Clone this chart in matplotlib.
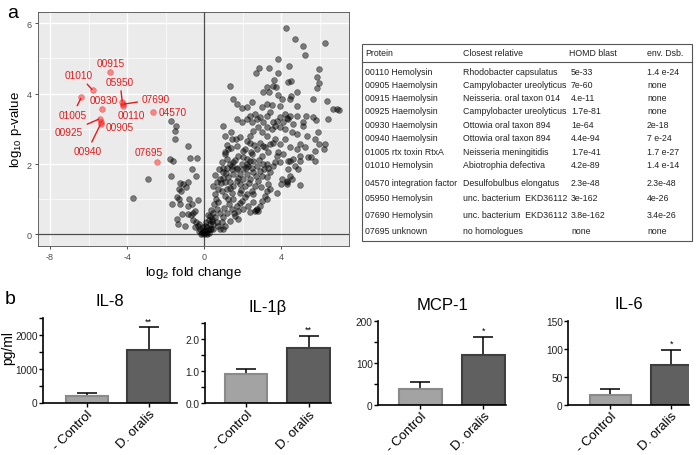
import matplotlib
matplotlib.use("Agg")
import matplotlib.pyplot as plt
import matplotlib.transforms as mtransforms
import numpy as np

plt.rcParams['font.family'] = ['Liberation Sans', 'DejaVu Sans']
plt.rcParams['mathtext.default'] = 'regular'
plt.rcParams['axes.unicode_minus'] = False

W, H = 696, 456

# ---- panel a: volcano data (log2 fold change, log10 p-value) ----
other_points = [
    # left side
    (-3.68, 1.04), (-2.93, 1.56), (-1.74, 3.22), (-1.47, 3.07), (-1.52, 2.93), (-1.52, 2.71),
    (-0.83, 2.50), (-1.78, 2.14), (-1.60, 2.09), (-0.74, 2.16), (-0.39, 2.18), (-0.65, 1.86),
    (-1.74, 1.65), (-0.43, 1.65), (-1.26, 1.46), (-1.33, 1.29), (-1.19, 1.24), (-0.95, 1.36),
    (-0.83, 1.48), (-1.09, 1.43), (-1.43, 1.05), (-1.30, 1.00), (-0.78, 1.00), (-0.31, 0.98),
    (-1.69, 0.86), (-1.26, 0.86), (-0.83, 0.81), (-0.65, 0.86), (-1.40, 0.45), (-1.38, 0.29),
    (-1.00, 0.23), (-0.83, 0.58), (-0.60, 0.61), (-0.48, 0.67), (-1.17, 0.58),
    # around the origin
    (-0.45, 0.35), (-0.35, 0.25), (-0.25, 0.30), (-0.20, 0.15), (-0.10, 0.05), (-0.05, 0.20),
    (0.00, 0.02), (0.05, 0.10), (0.10, 0.05), (0.15, 0.20), (0.20, 0.12), (0.25, 0.05),
    (-0.30, 0.10), (-0.15, 0.00), (0.30, 0.30), (0.35, 0.15), (-0.60, 0.40), (-0.70, 0.55),
    (0.40, 0.45), (0.10, 0.35), (0.22, 0.40), (-0.50, 0.20), (0.81, 0.15), (2.68, 0.70),
    # top right
    (4.22, 5.86), (4.72, 5.56), (5.13, 5.34), (6.24, 5.45), (5.22, 5.10), (3.82, 4.99),
    (4.41, 4.78), (2.85, 4.74), (3.37, 4.72), (2.68, 4.59), (3.82, 4.59), (5.96, 4.71),
    (5.86, 4.46), (5.95, 4.30), (5.82, 4.17), (3.60, 4.38), (3.55, 4.21), (3.72, 4.20),
    (4.36, 4.32), (4.51, 4.37), (3.23, 4.18), (3.03, 4.04), (3.37, 4.04), (1.33, 4.21),
    (4.82, 4.06), (3.83, 3.96), (4.48, 3.92),
    # middle right
    (0.99, 3.09), (1.37, 2.92), (1.51, 3.85), (1.71, 3.70), (1.94, 3.58), (2.20, 3.61),
    (2.49, 3.75), (2.98, 3.61), (3.23, 3.70), (3.49, 3.68), (3.93, 3.66), (4.01, 3.85),
    (4.44, 3.85), (4.79, 3.66), (5.65, 3.86), (6.34, 3.79), (6.69, 3.56), (7.00, 3.54),
    (6.86, 3.57), (1.68, 3.28), (1.94, 3.18), (2.20, 3.28), (2.37, 3.37), (2.46, 3.18),
    (2.63, 3.42), (2.72, 3.28), (2.89, 3.33), (3.06, 3.18), (3.23, 3.37), (3.41, 3.47),
    (3.58, 3.18), (3.75, 3.23), (3.93, 3.33), (4.18, 3.42), (4.30, 3.30), (4.44, 3.37),
    (4.62, 3.14), (4.82, 3.37), (5.13, 3.18), (5.27, 3.37), (5.62, 3.35), (5.79, 3.26),
    (1.08, 2.80), (1.42, 2.71), (1.68, 2.52), (1.25, 2.43), (1.08, 2.28), (1.16, 2.14),
    (1.51, 2.05), (1.77, 2.24), (2.03, 2.38), (2.20, 2.66), (2.37, 2.80), (2.54, 2.95),
    (2.80, 3.04), (2.98, 2.90), (3.23, 2.80), (3.49, 2.99), (3.67, 3.09), (3.93, 3.04),
    (4.10, 3.18), (4.36, 3.28), (4.53, 2.90), (4.79, 2.85), (5.13, 3.09), (5.31, 2.80),
    (5.74, 2.71), (5.96, 2.57), (6.20, 2.43), (5.91, 2.90), (5.22, 2.47), (4.96, 2.57),
    (4.79, 2.43), (4.44, 2.47), (4.18, 2.71), (3.93, 2.57), (3.67, 2.71), (3.41, 2.57),
    (3.15, 2.47), (2.89, 2.61), (2.72, 2.43), (2.46, 2.28), (2.20, 2.14), (1.94, 2.00),
    (1.68, 1.90), (1.42, 1.95), (0.99, 1.90), (2.54, 2.09), (2.98, 2.24), (3.32, 2.33),
    (3.75, 2.24), (4.10, 2.28), (4.36, 2.09), (4.62, 2.14), (4.96, 2.24), (5.39, 2.19),
    (5.74, 2.38), (5.74, 2.09), (3.23, 2.00), (3.58, 1.95), (3.93, 2.05), (2.28, 1.95),
    (2.11, 2.43), (2.37, 2.61), (1.85, 2.76), (3.23, 3.04), (4.18, 3.00), (6.41, 3.27),
    (6.25, 2.56), (5.55, 2.20),
    # lower band
    (0.13, 0.02), (0.30, 0.15), (0.47, 0.29), (0.56, 0.48), (0.47, 0.62), (0.64, 0.72),
    (0.73, 0.91), (0.56, 1.15), (0.47, 1.38), (0.64, 1.48), (0.82, 1.57), (0.99, 1.76),
    (1.16, 1.90), (1.33, 2.00), (0.90, 1.24), (1.08, 1.10), (1.25, 1.00), (1.42, 1.19),
    (1.51, 1.38), (1.68, 1.52), (1.85, 1.71), (2.03, 1.86), (2.20, 2.00), (2.37, 2.09),
    (2.72, 1.95), (2.89, 1.81), (2.98, 1.67), (2.80, 1.52), (2.63, 1.38), (2.46, 1.24),
    (2.20, 1.15), (1.94, 0.96), (1.68, 0.81), (1.42, 0.72), (1.16, 0.62), (0.99, 0.48),
    (0.90, 0.34), (0.73, 0.25), (1.08, 0.25), (1.33, 0.39), (1.59, 0.53), (1.77, 0.67),
    (2.03, 0.72), (2.28, 0.81), (2.54, 0.91), (2.72, 0.72), (2.63, 0.67), (2.80, 0.67),
    (2.98, 0.96), (3.15, 1.10), (3.23, 1.00), (3.23, 1.24), (3.32, 1.43), (3.23, 1.62),
    (3.41, 1.76), (3.67, 2.05), (3.75, 1.19), (4.01, 1.57), (4.27, 1.43), (4.27, 1.52),
    (4.53, 1.57), (4.44, 1.67), (4.96, 1.40), (4.36, 1.86), (4.70, 1.95), (4.87, 1.86),
    (4.96, 2.09), (4.44, 2.09), (1.77, 0.44), (0.99, 0.15), (-0.05, 0.10), (0.04, 0.25),
    (0.38, 0.39), (0.30, 0.53), (1.51, 1.00), (1.85, 1.19), (2.11, 1.38), (2.37, 1.57),
    (2.54, 1.76), (1.68, 1.86), (1.51, 1.71), (1.25, 1.62), (1.08, 1.48), (1.33, 1.33),
    (2.20, 1.71), (2.46, 1.90), (2.03, 1.57), (1.85, 1.43), (3.06, 2.00), (3.32, 1.90),
    (4.00, 1.43), (4.30, 1.49),
    (0.20, 0.55), (0.35, 0.70), (0.50, 0.85), (0.60, 1.00), (0.70, 1.30), (0.85, 1.45),
    (0.95, 1.60), (1.10, 1.75), (1.20, 1.30), (1.35, 1.50), (1.45, 1.85), (1.60, 2.10),
    (1.75, 1.60), (1.90, 1.25), (2.00, 2.20), (2.15, 1.90), (2.30, 1.45), (2.40, 2.35),
    (2.50, 1.15), (2.60, 2.55), (2.70, 1.65), (2.85, 2.10), (2.95, 1.35), (3.05, 2.50),
    (3.10, 1.85), (1.30, 0.85), (1.55, 0.60), (1.00, 0.75), (0.80, 0.60), (0.65, 0.35),
    (0.45, 0.15), (1.85, 0.90), (2.10, 1.05), (2.35, 0.65), (2.90, 0.80), (3.40, 1.30),
    (3.55, 2.60), (3.80, 2.35), (1.20, 2.55), (1.05, 2.35), (0.90, 2.05), (0.75, 1.85),
    (0.55, 1.70), (1.65, 2.70), (1.40, 2.45),
]
other_fc, other_logp = zip(*other_points)

hit_ids = ["00915", "01010", "01005", "00930", "05950", "07690", "00110",
           "04570", "00925", "00905", "00940", "07695"]
hit_fc = [-4.89, -5.77, -6.37, -5.28, -4.25, -4.20, -4.22, -2.67, -5.40, -5.37, -5.37, -2.47]
hit_logp = [4.62, 4.09, 3.90, 3.57, 3.75, 3.70, 3.64, 3.47, 3.29, 3.20, 3.14, 2.07]

# label placement (data coords) and whether a connector is drawn
label_pos = {
    "00915": (-4.85, 4.88, False), "01010": (-6.49, 4.52, True),
    "05950": (-4.37, 4.34, True), "00930": (-5.23, 3.81, False),
    "07690": (-2.52, 3.84, True), "01005": (-6.82, 3.40, True),
    "00110": (-3.77, 3.38, False), "04570": (-1.64, 3.48, False),
    "00925": (-7.01, 2.91, True), "00905": (-4.40, 3.05, False),
    "00940": (-6.06, 2.37, True), "07695": (-2.90, 2.33, False),
}

# ---- table ----
table_header = ["Protein", "Closest relative", "HOMD blast", "env. Dsb."]
table_protein = ["00110 Hemolysin", "00905 Haemolysin", "00915 Haemolysin", "00925 Haemolysin",
                 "00930 Haemolysin", "00940 Haemolysin", "01005 rtx toxin RtxA", "01010 Hemolysin",
                 "04570 integration factor", "05950 Hemolysin", "07690 Hemolysin", "07695 unknown"]
table_relative = ["Rhodobacter capsulatus", "Campylobacter ureolyticus", "Neisseria. oral taxon 014",
                  "Campylobacter ureolyticus", "Ottowia oral taxon 894", "Ottowia oral taxon 894",
                  "Neisseria meningitidis", "Abiotrophia defectiva", "Desulfobulbus elongatus",
                  "unc. bacterium  EKD36112", "unc. bacterium  EKD36112", "no homologues"]
table_homd = ["5e-33", "7e-60", "4.e-11", "1.7e-81", "1e-64", "4.4e-94", "1.7e-41",
              "4.2e-89", "2.3e-48", "3e-162", "3.8e-162", "none"]
table_env = ["1.4 e-24", "none", "none", "none", "2e-18", "7 e-24", "1.7 e-27",
             "1.4 e-14", "2.3e-48", "4e-26", "3.4e-26", "none"]

# ---- panel b: cytokines ----
cytokines = ["IL-8", "IL-1β", "MCP-1", "IL-6"]
groups = ["- Control", "D. oralis"]
control_mean = [180, 0.91, 37.6, 17.3]
control_err = [95, 0.15, 16, 10.2]
oralis_mean = [1556, 1.73, 120, 70.3]
oralis_err = [663, 0.38, 41.6, 27.9]
stars = ["**", "**", "*", "*"]
y_max = [2500, 2.5, 200, 150]
y_major = [[0, 1000, 2000], [0.0, 1.0, 2.0], [0, 100, 200], [0, 50, 100, 150]]
y_minor = [[500, 1500, 2500], [0.5, 1.5, 2.5], [50, 150], []]
y_fmt = ["{:.0f}", "{:.1f}", "{:.0f}", "{:.0f}"]


def px_axes(fig, left, right, bottom, top):
    return fig.add_axes([left / W, 1 - bottom / H, (right - left) / W, (bottom - top) / H])


fig = plt.figure(figsize=(W / 100, H / 100), dpi=100)

# ================= volcano =================
ax = px_axes(fig, 38, 349, 247, 13)
ax.set_facecolor("#EBEBEB")
ax.set_xlim(-8.62, 7.5)
ax.set_ylim(-0.33, 6.32)
ax.set_xticks([-8, -4, 0, 4])
ax.set_yticks([0, 2, 4, 6])
ax.set_xticks([-6, -2, 2, 6], minor=True)
ax.set_yticks([1, 3, 5], minor=True)
ax.grid(which="major", color="white", lw=1.0)
ax.grid(which="minor", color="white", lw=0.5)
ax.set_axisbelow(True)
ax.tick_params(which="minor", length=0)
ax.tick_params(which="major", length=2.5, width=0.6, color="#333333",
               labelsize=6.5, labelcolor="#4D4D4D", pad=2)
for s in ax.spines.values():
    s.set_color("#4D4D4D")
    s.set_linewidth(0.6)
ax.axvline(0, color="#4D4D4D", lw=0.9, zorder=1)
ax.axhline(0, color="#4D4D4D", lw=0.9, zorder=1)

ax.scatter(other_fc, other_logp, s=17, color="black", alpha=0.48, edgecolors="black",
           linewidths=0.5, zorder=2)
ax.scatter(hit_fc, hit_logp, s=17, color="#FF0000", alpha=0.42, edgecolors="#FF0000",
           linewidths=0.5, zorder=3)

for name, fx, py in zip(hit_ids, hit_fc, hit_logp):
    lx, ly, seg = label_pos[name]
    props = dict(arrowstyle="-", color="#E41A1C", lw=1.0, shrinkA=1, shrinkB=1) if seg else None
    ax.annotate(name, xy=(fx, py), xytext=(lx, ly), ha="center", va="center",
                fontsize=7.3, color="#E41A1C", arrowprops=props, zorder=4)

ax.set_xlabel(r"log$_2$ fold change", fontsize=9.5, labelpad=2)
ax.set_ylabel(r"log$_{10}$ p-value", fontsize=9.5, labelpad=2)

fig.text(7 / W, 1 - 14 / H, "a", fontsize=14, va="center", ha="left")
fig.text(5 / W, 1 - 300 / H, "b", fontsize=14, va="center", ha="left")

# ================= table =================
tx0, tx1, ty0, ty1 = 362, 692, 45, 242
fig.add_artist(plt.Rectangle((tx0 / W, 1 - ty1 / H), (tx1 - tx0) / W, (ty1 - ty0) / H,
                             transform=fig.transFigure, fill=False, ec="#555555", lw=0.8))
fig.add_artist(plt.Line2D([tx0 / W, tx1 / W], [1 - 63 / H, 1 - 63 / H],
                          transform=fig.transFigure, color="#555555", lw=0.8))
col_x = [365, 463, 571, 647]
for cx, txt in zip([365, 463, 569, 647], table_header):
    fig.text(cx / W, 1 - 53.5 / H, txt, fontsize=6.3, va="center", ha="left", color="#222222")
row_y = [72.7, 85, 98.3, 111.7, 125, 138.3, 152.7, 166, 183.3, 199, 215.3, 231.3]
for i, ry in enumerate(row_y):
    cols = [table_protein[i], table_relative[i], table_homd[i], table_env[i]]
    for cx, txt in zip(col_x, cols):
        fig.text(cx / W, 1 - ry / H, txt, fontsize=6.3, va="center", ha="left", color="#222222")

# ================= bar charts =================
bar_boxes = [(43.3, 177, 403.5, 319), (205, 331, 404.3, 324.3),
             (378.3, 506, 405.7, 322.3), (568.3, 689, 405.7, 321.7)]
bar_xlim = [(-0.70, 1.46), (-0.66, 1.36), (-0.67, 1.36), (-0.69, 1.29)]
label_shift = mtransforms.ScaledTranslation(9 / 100, 2 / 100, fig.dpi_scale_trans)

for i, name in enumerate(cytokines):
    l, r, b, t = bar_boxes[i]
    bx = px_axes(fig, l, r, b, t)
    x = np.arange(2)
    means = [control_mean[i], oralis_mean[i]]
    errs = [control_err[i], oralis_err[i]]
    bx.bar(x, means, width=0.68, color=["#A3A3A3", "#606060"],
           edgecolor=["#8A8A8A", "#3E3E3E"], linewidth=1.5, zorder=2)
    bx.errorbar(x, means, yerr=[[0, 0], errs], fmt="none", ecolor="black",
                elinewidth=1.1, capsize=7.5, capthick=1.1, zorder=1)
    bx.text(1, oralis_mean[i] + oralis_err[i] + y_max[i] * 0.025, stars[i],
            ha="center", va="bottom", fontsize=6.5)
    bx.set_xlim(*bar_xlim[i])
    bx.set_ylim(0, y_max[i])
    bx.set_yticks(y_major[i])
    bx.set_yticklabels([y_fmt[i].format(v) for v in y_major[i]])
    bx.set_yticks(y_minor[i], minor=True)
    bx.set_xticks(x)
    bx.set_xticklabels(groups, rotation=45, ha="right", va="top",
                       rotation_mode="anchor", fontsize=9.5)
    for lab in bx.get_xticklabels():
        lab.set_transform(lab.get_transform() + label_shift)
    bx.tick_params(axis="y", which="both", length=3, width=1, labelsize=7.3, pad=1,
                   labelcolor="#222222")
    bx.tick_params(axis="x", length=3, width=1, pad=0.5)
    for s in ["top", "right"]:
        bx.spines[s].set_visible(False)
    for s in ["left", "bottom"]:
        bx.spines[s].set_linewidth(1.2)
    bx.set_title(name, fontsize=12, pad=9)

fig.text(8 / W, 1 - 348 / H, "pg/ml", fontsize=10, rotation=90, ha="center", va="center")

fig.savefig("out.png", dpi=100)
